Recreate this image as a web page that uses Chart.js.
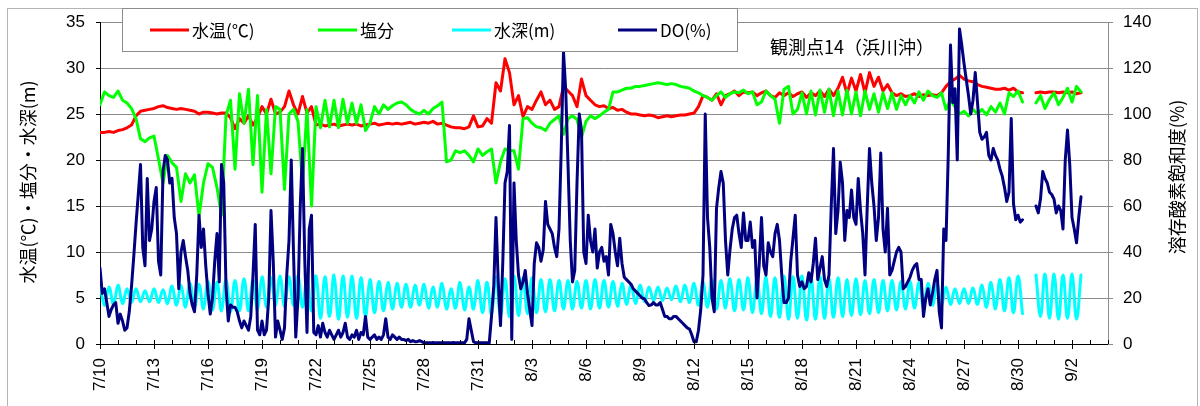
<!DOCTYPE html>
<html><head><meta charset="utf-8">
<script src="https://cdn.jsdelivr.net/npm/chart.js@4.4.0/dist/chart.umd.min.js"></script>
<style>html,body{margin:0;padding:0;background:#fff;}#wrap{width:1200px;height:406px;}</style>
</head><body><div id="wrap"><canvas id="c" width="1200" height="406"></canvas></div>
<script>
// x tick labels (every 3 days starting 7/10)
const dateLabels = ['7/10','7/13','7/16','7/19','7/22','7/25','7/28','7/31','8/3','8/6','8/9','8/12','8/15','8/18','8/21','8/24','8/27','8/30','9/2'];
// sampling steps in days from 7/10 00:00
const STEP = 0.25;
const DO_STEP = 0.125;

// 水温(℃)
const waterTemp = [
23.0,23.0,23.1,23.0, 23.2,23.3,23.5,23.8, 24.8,25.3,25.4,25.5, 25.6,25.8,25.9,25.7,
25.6,25.5,25.6,25.5, 25.4,25.3,25.0,25.2, 25.2,25.1,25.0,25.1, 25.1,24.6,23.4,24.5,
24.0,24.8,23.8,24.6, 25.8,25.0,26.6,25.0, 25.2,25.8,27.5,26.0, 25.0,26.9,25.1,25.8,
23.8,23.9,23.7,23.8, 23.9,23.7,23.8,23.9, 23.8,23.9,23.7,23.8, 23.9,24.0,23.8,23.9,
24.0,23.9,24.0,23.9, 24.0,24.1,23.9,24.0, 24.1,24.0,24.2,23.9, 24.0,23.8,23.6,23.5,
23.5,23.4,23.6,24.8, 23.6,23.7,24.5,24.0, 28.4,27.5,31.0,29.5, 26.0,27.0,24.7,25.8,
25.5,26.5,27.4,26.0, 26.5,25.5,25.8,28.0, 27.5,27.0,25.8,28.8, 27.0,26.5,26.0,25.8,
25.9,25.6,25.7,25.4, 25.5,25.2,25.0,25.0, 24.9,24.8,24.9,24.8, 24.6,24.7,24.8,24.7,
24.8,24.9,24.9,25.0, 25.1,25.8,27.0,26.8, 26.5,27.2,26.0,27.0, 27.2,27.5,27.0,27.4,
27.3,27.4,27.0,27.3, 27.5,27.0,26.8,27.3, 27.0,27.3,26.9,27.2, 27.4,26.8,27.3,27.0,
27.5,26.9,27.7,27.0, 27.8,29.0,27.2,28.9, 27.5,29.3,27.3,29.5, 28.0,29.0,27.5,28.2,
27.3,27.0,27.2,26.9, 27.0,27.2,26.9,27.1, 27.0,27.1,27.0,27.3, 28.0,28.5,28.8,29.2,
28.8,28.6,28.5,28.2, 28.0,27.9,27.8,27.7, 27.7,27.8,27.6,27.8, 27.4,27.3,null,null,
27.3,27.4,27.3,27.4, 27.4,27.3,27.4,27.3, 27.4,27.2,27.3
];

// 塩分
const salinity = [
26.0,27.4,27.0,26.8, 27.5,26.5,26.2,25.6, 24.5,22.3,22.0,22.4, 22.6,20.1,17.5,20.5,
19.7,19.2,15.5,18.5, 17.5,18.4,13.9,17.5, 19.6,19.2,17.0,14.0, 24.8,26.5,19.0,27.2,
24.0,27.7,19.5,27.0, 16.5,25.5,18.5,25.8, 25.5,16.8,25.0,25.5, 24.2,17.5,25.5,15.0,
25.8,23.5,26.5,23.6, 26.5,23.5,26.6,24.0, 26.2,24.0,26.0,23.2, 24.0,25.8,25.0,26.0,
25.5,25.9,26.2,26.3, 26.0,25.5,25.2,25.0, 25.4,25.0,25.6,25.9, 26.3,19.8,20.0,21.0,
20.8,21.0,20.5,19.8, 21.2,20.5,20.9,21.2, 17.5,19.8,21.2,21.0, 21.0,19.0,24.5,24.6,
24.0,23.6,23.5,23.2, 24.0,24.4,24.8,22.8, 24.5,24.8,24.4,22.5, 24.2,24.8,24.5,24.8,
25.2,25.5,27.4,27.4, 27.6,27.8,27.8,28.0, 28.0,28.1,28.2,28.3, 28.4,28.3,28.2,28.3,
28.2,28.0,27.9,27.8, 27.5,27.3,27.0,26.8, 26.5,27.0,27.4,26.8, 27.2,27.4,27.3,27.6,
27.2,27.4,26.0,26.3, 27.5,27.0,26.6,24.0, 27.7,28.0,25.0,25.5, 27.3,25.0,27.5,24.9,
27.6,25.2,27.7,24.8, 27.5,24.9,27.6,25.0, 27.4,24.8,27.5,25.5, 27.2,25.2,27.3,25.6,
27.3,25.5,27.0,26.0, 27.0,26.2,27.4,26.5, 27.5,27.0,26.8,27.3, 25.5,26.5,25.8,25.0,
25.3,24.8,25.5,25.0, 25.5,24.9,25.8,25.2, 26.2,25.0,27.3,26.9, 27.5,26.3,null,null,
26.2,27.0,25.6,26.6, 27.3,26.0,26.8,27.8, 26.3,28.0,27.4
];

// 水深(m)
const waterDepth = [
6.5,4.2,6.2,4.3, 6.4,4.4,6.0,4.5, 6.0,4.6,5.8,4.6, 6.0,4.5,5.9,4.4,
6.3,4.2,6.4,4.0, 6.6,3.9,6.5,3.8, 6.8,3.7,6.7,3.6, 7.0,3.5,6.9,3.6,
7.1,3.6,7.0,3.7, 7.3,4.0,7.2,4.2, 7.4,4.1,7.3,4.2, 7.4,4.0,7.2,3.6,
7.4,2.8,7.3,3.0, 7.5,2.7,7.4,2.9, 7.4,2.8,7.2,3.0, 7.0,3.4,6.8,3.6,
6.7,3.8,6.6,4.0, 6.5,4.0,6.4,4.2, 6.5,3.9,6.2,4.0, 6.6,3.8,6.0,3.9,
6.7,3.7,6.2,3.8, 6.9,3.4,6.7,3.2, 7.3,3.1,7.1,3.0, 7.4,3.1,7.2,3.3,
7.2,3.4,7.0,3.5, 7.0,3.6,6.9,3.8, 6.9,3.8,6.8,3.9, 6.9,3.8,7.0,3.9,
6.9,4.0,6.8,4.1, 6.6,4.3,6.5,4.4, 6.4,4.6,6.2,4.7, 6.2,4.7,6.1,4.8,
6.3,4.6,6.4,4.5, 6.6,4.2,6.8,4.0, 7.0,3.8,6.9,3.9, 7.1,3.6,7.0,3.7,
7.2,3.4,7.1,3.3, 7.3,3.0,7.2,2.9, 7.4,2.7,7.3,2.8, 7.4,2.6,7.2,2.7,
7.3,2.8,7.1,2.9, 7.2,3.0,7.0,3.1, 7.1,3.2,6.9,3.3, 7.0,3.4,6.9,3.6,
6.9,3.7,6.8,3.8, 6.8,3.9,6.7,4.0, 6.6,4.2,6.5,4.3, 6.2,4.3,6.0,4.4,
6.0,4.4,6.1,4.3, 6.4,4.0,6.7,3.8, 7.0,3.6,7.2,3.4, 7.4,3.3,null,null,
7.5,3.0,7.6,2.8, 7.6,2.7,7.5,2.8, 7.6,2.7,7.5
];

// DO(%)  (every 3 hours)
const doSat = [
33,22,24,18,12,15,17,18,  9,13,10,6,7,14,25,38,  52,65,78,42,34,72,45,50,  62,68,36,30,75,82,80,70,
72,55,48,24,40,45,38,32,  22,17,14,30,56,42,50,34,  22,13,20,36,48,27,78,70,  25,10,17,16,16,14,10,7,
10,8,6,12,30,52,6,4,  10,4,6,20,58,36,3,10,  6,2,7,30,45,80,40,3,  20,60,85,37,5,50,56,5,
4,8,3,9,5,3,6,4,  2,4,6,3,5,9,3,2,  4,3,6,2,5,4,12,3,  2,3,4,2,3,2,4,11,
3,2,4,3,2,3,2,2,  1.5,2,1,1.5,1,1,1.5,1,  0.5,0.6,0.5,0.5,0.7,0.5,0.5,0.6,  0.5,0.5,0.6,0.5,0.5,0.7,0.5,0.5,
0.5,0.6,0.5,2,11,6,1,0.5,  0.5,0.5,0.6,0.5,0.5,0.5,12,25,  55,27,8,35,70,75,95,2,  70,45,30,24,27,32,22,15,
8,35,44,42,36,41,62,52,  50,48,42,38,50,85,127,110,  78,45,27,32,70,100,93,40,  35,56,45,40,50,33,40,42,
36,38,30,52,48,40,34,46,  35,29,28,27,26,24,23,22,  21,20,19.6,18,16.7,17,18,17,  17,18,15,12,12,11,11,12,
12,11,10,9,8,7,6.5,4,  1,1,6,15,30,100,55,42,  20,14,59,68,75,70,45,30,  41,50,55,56,48,42,57,45,
45,53,42,45,20,35,55,34,  30,44,40,38,48,52,45,30,  18,18,20,36,46,56,30,25,  27,24,25,31,27,35,46,28,
33,38,28,25,30,60,85,48,  58,79,70,45,58,55,67,55,  52,72,58,48,30,60,85,70,  60,45,55,83,50,40,59,30,
32,36,40,42,40,24,25,27,  29,32,34,35,28,28,12,20,  24,17,22,28,32,14,7,50,  45,82,130,105,111,80,137,130,
122,115,108,100,106,118,105,92,  89,90,92,82,80,85,82,80,  76,73,68,62,66,98,61,54,  56,53,54,null,null,null,null,null,
60,57,63,75,72,70,66,65,  63,57,60,58,50,80,93,78,  55,50,44,55,64
];

const toXY = (arr, step) => arr.map((v, i) => ({x: i * step, y: v}));

const GRID = '#8c8c8c';
const NUM_FONT = 'Liberation Sans, Arial, sans-serif';
const JP_FONT = '"Noto Sans CJK JP", sans-serif';

const decor = {
  id: 'decor',
  beforeDraw(chart) {
    const ctx = chart.ctx;
    ctx.save();
    ctx.fillStyle = '#fff';
    ctx.fillRect(0, 0, chart.width, chart.height);
    ctx.strokeStyle = '#b4b4b4';
    ctx.lineWidth = 1;
    ctx.strokeRect(7.5, 8.5, 1190, 420);
    ctx.restore();
  },
  afterDraw(chart) {
    const ctx = chart.ctx;
    const xs = chart.scales.x;
    const bottom = chart.chartArea.bottom;
    ctx.save();
    // x tick marks: minor every day, major every 3 days
    ctx.strokeStyle = '#000';
    ctx.lineWidth = 1;
    ctx.beginPath();
    for (let d = 0; d <= 56; d++) {
      const px = Math.round(xs.getPixelForValue(d)) + 0.5;
      ctx.moveTo(px, bottom - 4);
      ctx.lineTo(px, d % 3 === 0 ? bottom + 5 : bottom);
    }
    ctx.stroke();

    // legend box
    ctx.fillStyle = '#fff';
    ctx.fillRect(122, 8, 615, 43);
    ctx.strokeStyle = '#8c8c8c';
    ctx.strokeRect(122.5, 8.5, 615, 43);
    const items = [
      {c: '#ff0000', t: '水温(℃)', x: 150},
      {c: '#00ff00', t: '塩分', x: 318},
      {c: '#00ffff', t: '水深(m)', x: 452},
      {c: '#000080', t: 'DO(%)', x: 618}
    ];
    ctx.font = '17px ' + JP_FONT;
    ctx.textBaseline = 'middle';
    ctx.textAlign = 'left';
    items.forEach(it => {
      ctx.strokeStyle = it.c;
      ctx.lineWidth = 3;
      ctx.beginPath();
      ctx.moveTo(it.x, 30);
      ctx.lineTo(it.x + 39, 30);
      ctx.stroke();
      ctx.fillStyle = '#000';
      ctx.fillText(it.t, it.x + 42, 31);
    });

    // station label
    ctx.font = '18px ' + JP_FONT;
    ctx.fillText('観測点14（浜川沖）', 770, 47);

    // axis titles
    ctx.font = '18px ' + JP_FONT;
    ctx.textAlign = 'center';
    ctx.save();
    ctx.translate(28, 182);
    ctx.rotate(-Math.PI / 2);
    ctx.fillText('水温(℃)・塩分・水深(m)', 0, 0);
    ctx.restore();
    ctx.save();
    ctx.translate(1177, 177);
    ctx.rotate(-Math.PI / 2);
    ctx.fillText('溶存酸素飽和度(%)', 0, 0);
    ctx.restore();
    ctx.restore();
  }
};

new Chart(document.getElementById('c'), {
  type: 'line',
  data: {
    datasets: [
      {label: 'DO(%)', data: toXY(doSat, DO_STEP), yAxisID: 'y2', borderColor: '#000080', order: 0},
      {label: '水深(m)', data: toXY(waterDepth, STEP), yAxisID: 'y', borderColor: '#00ffff', order: 1, tension: 0.4},
      {label: '塩分', data: toXY(salinity, STEP), yAxisID: 'y', borderColor: '#00ff00', order: 2},
      {label: '水温(℃)', data: toXY(waterTemp, STEP), yAxisID: 'y', borderColor: '#ff0000', order: 3}
    ]
  },
  options: {
    responsive: false,
    animation: false,
    devicePixelRatio: 1,
    spanGaps: false,
    layout: {padding: {top: 22, left: 0, right: 0, bottom: 0}},
    elements: {
      point: {radius: 0},
      line: {borderWidth: 3, borderJoinStyle: 'round', borderCapStyle: 'round', tension: 0}
    },
    plugins: {legend: {display: false}, tooltip: {enabled: false}},
    scales: {
      x: {
        type: 'linear', min: 0, max: 56,
        afterFit(s) { s.height = 62; },
        grid: {drawOnChartArea: false, drawTicks: false},
        border: {color: '#000', width: 1},
        ticks: {
          stepSize: 1, autoSkip: false, maxRotation: 90, minRotation: 90,
          padding: 14, color: '#000',
          font: {family: NUM_FONT, size: 17},
          callback: v => (v % 3 === 0 && dateLabels[v / 3]) ? dateLabels[v / 3] : ''
        }
      },
      y: {
        position: 'left', min: 0, max: 35,
        afterFit(s) { s.width = 100; },
        grid: {color: GRID, lineWidth: 1, tickLength: 4, tickColor: '#000'},
        border: {color: '#000', width: 1},
        ticks: {stepSize: 5, padding: 11, color: '#000', font: {family: NUM_FONT, size: 17}}
      },
      y2: {
        position: 'right', min: 0, max: 140,
        afterFit(s) { s.width = 92; },
        grid: {drawOnChartArea: false, tickLength: 5, color: GRID},
        border: {color: GRID, width: 1},
        ticks: {stepSize: 20, padding: 10, color: '#000', font: {family: NUM_FONT, size: 17}}
      }
    }
  },
  plugins: [decor]
});
</script>
</body></html>
